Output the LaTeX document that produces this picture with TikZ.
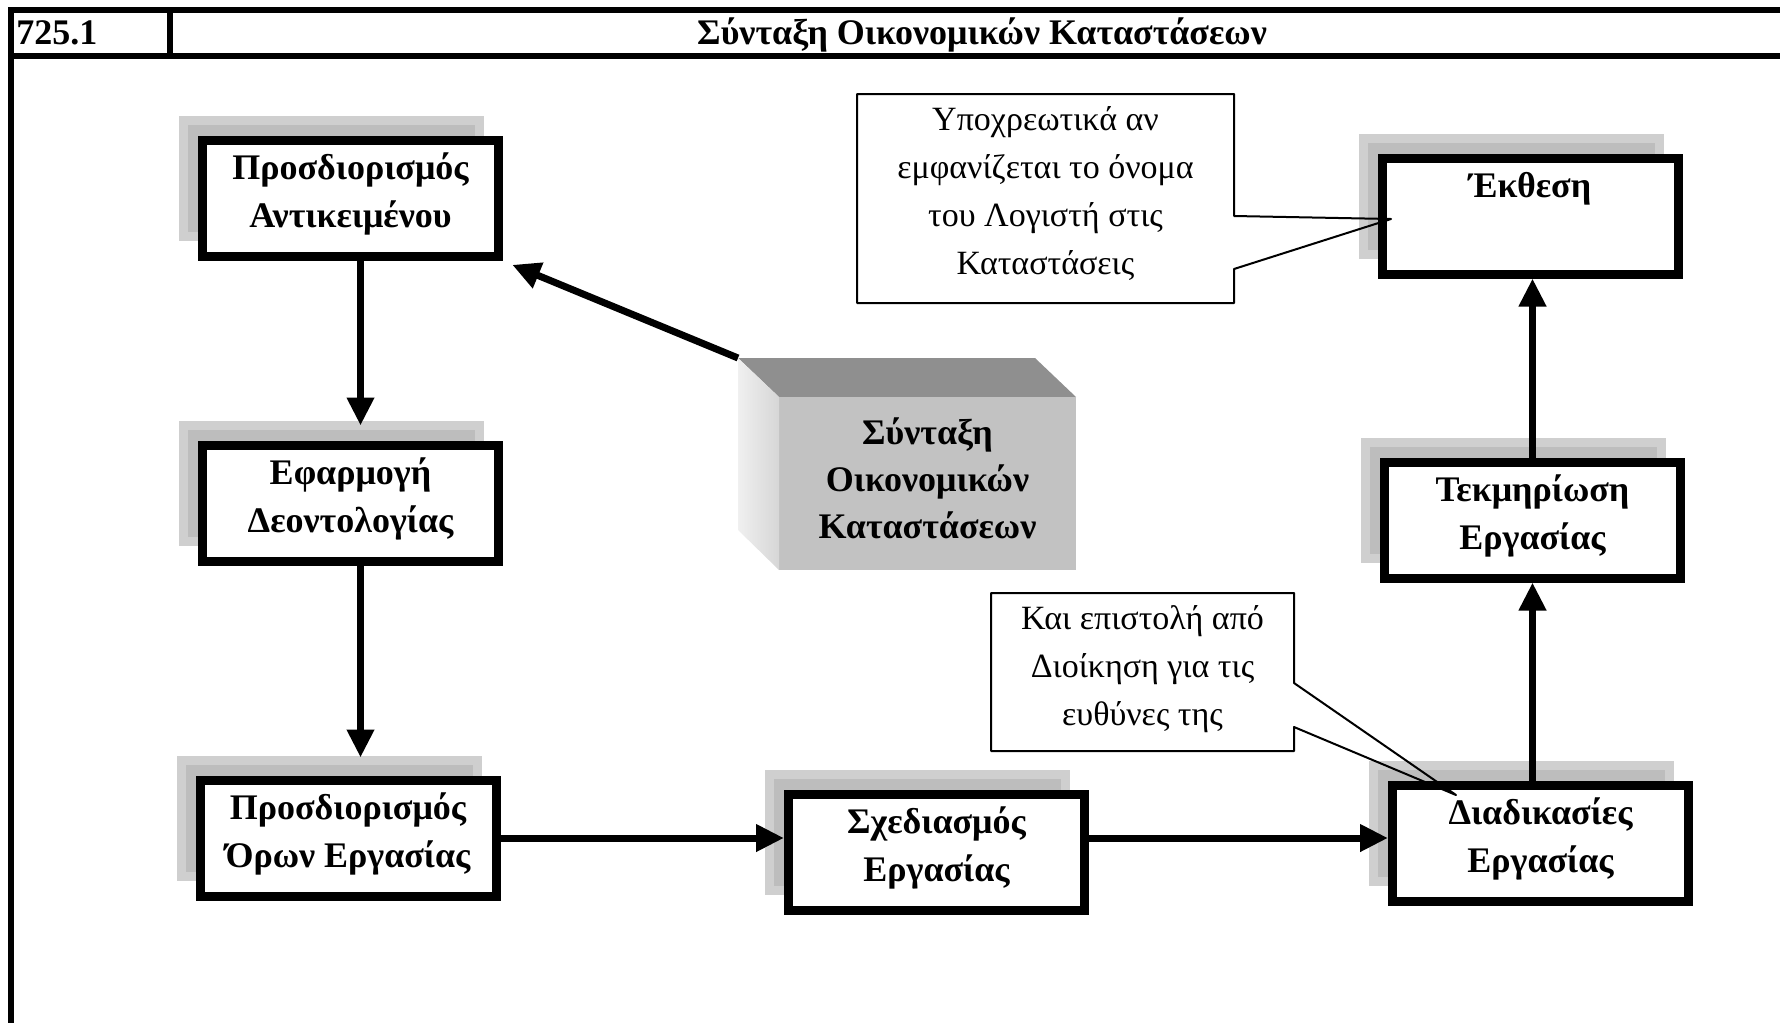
\documentclass[tikz,border=0pt]{standalone}
\usepackage{fontspec}
\setmainfont{Liberation Serif}
\usetikzlibrary{arrows.meta,shadows}

\newcommand{\stagelines}[1]{\parbox[c][58pt][t]{148pt}{\centering\rule{0pt}{19.5pt}#1}}
\newcommand{\notelines}[3]{\parbox[c][#2][t]{#1}{\centering\rule{0pt}{18pt}#3}}

\tikzset{
  stage/.style={draw, line width=4.5pt, fill=white, inner sep=0pt,
    font=\fontsize{18}{24}\selectfont\bfseries,
    copy shadow={shadow xshift=-9.5pt, shadow yshift=10pt, fill=black!26, draw=black!19}},
  flow/.style={line width=3.5pt, -{Triangle[length=14pt,width=13pt]}},
  note/.style={line width=1pt, line join=round},
  notetext/.style={inner sep=0pt, outer sep=0pt, font=\fontsize{17}{24}\selectfont},
  headtext/.style={font=\fontsize{18}{24}\selectfont\bfseries, inner sep=0pt}
}

\begin{document}
\begin{tikzpicture}[x=0.5pt, y=-0.5pt]
    \useasboundingbox (0,0) rectangle (1780,1023);

    % Kopfzeile
    \draw[line width=3pt] (1780,10) -- (11,10) -- (11,1023);
    \draw[line width=3pt] (11,56) -- (1780,56);
    \draw[line width=3pt] (170,10) -- (170,56);
    \node[headtext, anchor=base west] (code) at (16,44) {725.1};
    \node[headtext, anchor=base] (title) at (982,44) {Σύνταξη Οικονομικών Καταστάσεων};

    % Stufen
    \node[stage] (object) at (350.5,198.5) {\stagelines{Προσδιορισμός\\Αντικειμένου}};
    \node[stage] (ethics) at (350.5,503) {\stagelines{Εφαρμογή\\Δεοντολογίας}};
    \node[stage] (terms) at (348,838) {\stagelines{Προσδιορισμός\\Όρων Εργασίας}};
    \node[stage] (plan) at (936.5,852.5) {\stagelines{Σχεδιασμός\\Εργασίας}};
    \node[stage] (proc) at (1540.5,843) {\stagelines{Διαδικασίες\\Εργασίας}};
    \node[stage] (docs) at (1532.5,520) {\stagelines{Τεκμηρίωση\\Εργασίας}};
    \node[stage] (report) at (1530,216) {\stagelines{Έκθεση}};

    % Quader
    \coordinate (cubecorner) at (738,358);
    \fill[black!44] (cubecorner) -- (1035,358) -- (1076,397) -- (779,397) -- cycle;
    \fill[black!24] (779,397) rectangle (1076,570);
    \shade[left color=black!6, right color=black!16] (cubecorner) -- (779,397) -- (779,570) -- (738,530) -- cycle;
    \node[font=\fontsize{18}{23.5}\selectfont\bfseries, align=center] (summary) at (927.5,478) {Σύνταξη\\Οικονομικών\\Καταστάσεων};

    % Pfeile
    \draw[flow, shorten >=5pt] (cubecorner) -- (object.south east);
    \draw[flow, shorten >=7.5pt] ([xshift=5pt]object.south) -- ([xshift=5pt]ethics.north);
    \draw[flow, shorten >=9pt] ([xshift=5pt]ethics.south) -- ([xshift=5pt]ethics.south |- terms.north);
    \draw[flow] (terms.east) -- (terms.east -| plan.west);
    \draw[flow] (terms.east -| plan.east) -- (terms.east -| proc.west);
    \draw[flow] (docs.south |- proc.north) -- (docs.south);
    \draw[flow] (docs.north) -- (docs.north |- report.south);

    % Hinweise
    \node[notetext] (note1) at (1045.5,198.5) {\notelines{188.5pt}{104.5pt}{Υποχρεωτικά αν\\εμφανίζεται το όνομα\\του Λογιστή στις\\Καταστάσεις}};
    \coordinate (tip1) at (1391,219);
    \draw[note] ([yshift=-61pt]note1.north east) -- (note1.north east) -- (note1.north west)
        -- (note1.south west) -- (note1.south east) -- ([yshift=-87.5pt]note1.north east) -- (tip1) -- cycle;

    \node[notetext] (note2) at (1142.5,672) {\notelines{151.5pt}{79pt}{Και επιστολή από\\Διοίκηση για τις\\ευθύνες της}};
    \coordinate (tip2) at (1456,795);
    \draw[note] ([yshift=-45pt]note2.north east) -- (note2.north east) -- (note2.north west)
        -- (note2.south west) -- (note2.south east) -- ([yshift=-67pt]note2.north east) -- (tip2) -- cycle;
\end{tikzpicture}
\end{document}
